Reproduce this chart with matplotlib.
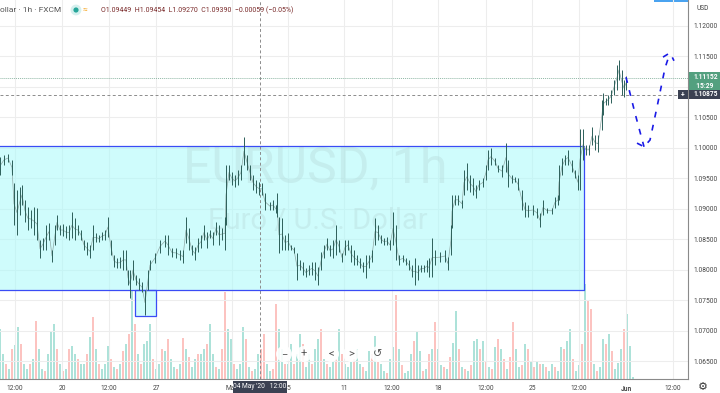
import numpy as np
import matplotlib
matplotlib.use('Agg')
import matplotlib.pyplot as plt
from matplotlib.patches import Rectangle, Circle

plt.rcParams['font.family'] = ['Roboto', 'DejaVu Sans']

# time slots on the chart, with high and low seen in each one
slots = [0,4,8,12,14,17,20,22,25,28,31,34,37,40,43,46,49,52,55,57,60,63,66,69,72,75,78,81,84,87,90,93,96,99,102,105,108,111,114,117,120,123,126,128,130,133,136,139,142,145,148,150,155,160,165,168,172,176,180,183,186,189,192,195,198,201,204,207,210,213,216,219,222,225,226,229,232,235,238,241,244,247,250,253,256,259,262,265,270,273,276,277,279,282,285,288,291,294,297,300,303,306,309,312,315,318,321,324,327,330,333,336,339,342,345,348,351,354,357,360,363,366,369,372,375,378,381,384,387,390,393,396,399,403,406,409,412,415,418,421,424,427,429,432,435,440,445,448,451,452,455,458,462,464,467,470,473,476,479,483,486,488,491,495,498,502,506,508,512,515,518,522,525,528,533,537,540,543,547,552,555,558,559,562,565,568,572,575,578,580,583,586,589,592,595,598,602,603,606,608,611,614,617,619,622,624,626]
highs = [1.0985,1.0989,1.0990,1.0980,1.0943,1.0931,1.0936,1.0939,1.0915,1.0903,1.0898,1.0903,1.0902,1.0849,1.0852,1.0874,1.0877,1.0833,1.0874,1.0890,1.0874,1.0875,1.0872,1.0874,1.0895,1.0885,1.0874,1.0866,1.0849,1.0846,1.0841,1.0874,1.0861,1.0857,1.0862,1.0866,1.0887,1.0849,1.0825,1.0820,1.0821,1.0833,1.0833,1.0800,1.0800,1.0816,1.0792,1.0787,1.0780,1.0767,1.0800,1.0816,1.0828,1.0849,1.0857,1.0857,1.0836,1.0836,1.0833,1.0833,1.0887,1.0869,1.0841,1.0838,1.0852,1.0857,1.0874,1.0862,1.0866,1.0862,1.0879,1.0874,1.0869,1.0887,1.0972,1.0972,1.0961,1.0956,1.0964,1.0972,1.1018,1.0989,1.0972,1.0956,1.0948,1.0944,1.0943,1.0926,1.0911,1.0915,1.0907,1.0926,1.0887,1.0885,1.0857,1.0861,1.0841,1.0838,1.0828,1.0816,1.0813,1.0803,1.0808,1.0813,1.0813,1.0805,1.0829,1.0841,1.0852,1.0841,1.0849,1.0874,1.0849,1.0828,1.0849,1.0849,1.0841,1.0833,1.0825,1.0820,1.0813,1.0825,1.0825,1.0833,1.0885,1.0874,1.0857,1.0852,1.0854,1.0849,1.0895,1.0874,1.0825,1.0825,1.0820,1.0816,1.0808,1.0820,1.0808,1.0808,1.0808,1.0816,1.0820,1.0852,1.0833,1.0829,1.0833,1.0821,1.0874,1.0923,1.0923,1.0923,1.0915,1.0964,1.0975,1.0956,1.0951,1.0939,1.0948,1.0951,1.0972,1.0997,1.1000,1.0984,1.0972,1.0972,1.1008,1.0980,1.0956,1.0952,1.0951,1.0931,1.0911,1.0907,1.0907,1.0902,1.0893,1.0915,1.0902,1.0902,1.0920,1.0923,1.0972,1.0984,1.0989,1.0997,1.0980,1.0964,1.0956,1.1031,1.1031,1.1005,1.1005,1.1034,1.1021,1.1021,1.1079,1.1090,1.1082,1.1087,1.1095,1.1112,1.1136,1.1144,1.1128,1.1112,1.1118]
lows = [1.0956,1.0972,1.0977,1.0956,1.0874,1.0857,1.0890,1.0907,1.0879,1.0866,1.0869,1.0857,1.0849,1.0820,1.0833,1.0833,1.0849,1.0813,1.0841,1.0866,1.0857,1.0856,1.0852,1.0849,1.0852,1.0849,1.0857,1.0849,1.0833,1.0825,1.0820,1.0833,1.0846,1.0846,1.0849,1.0849,1.0854,1.0825,1.0805,1.0803,1.0803,1.0800,1.0800,1.0775,1.0754,1.0784,1.0775,1.0767,1.0764,1.0726,1.0767,1.0800,1.0811,1.0828,1.0838,1.0825,1.0821,1.0820,1.0816,1.0811,1.0844,1.0833,1.0825,1.0816,1.0829,1.0836,1.0849,1.0836,1.0852,1.0841,1.0857,1.0841,1.0849,1.0833,1.0874,1.0948,1.0939,1.0936,1.0939,1.0948,1.0972,1.0964,1.0948,1.0931,1.0926,1.0923,1.0923,1.0898,1.0898,1.0898,1.0893,1.0887,1.0828,1.0833,1.0833,1.0833,1.0833,1.0828,1.0784,1.0800,1.0792,1.0788,1.0792,1.0792,1.0784,1.0775,1.0800,1.0820,1.0833,1.0823,1.0820,1.0825,1.0829,1.0813,1.0825,1.0833,1.0813,1.0808,1.0808,1.0803,1.0797,1.0787,1.0803,1.0813,1.0841,1.0849,1.0844,1.0841,1.0841,1.0833,1.0841,1.0816,1.0808,1.0813,1.0808,1.0800,1.0788,1.0775,1.0784,1.0797,1.0797,1.0797,1.0788,1.0788,1.0808,1.0813,1.0813,1.0800,1.0825,1.0869,1.0907,1.0907,1.0902,1.0923,1.0931,1.0928,1.0923,1.0918,1.0931,1.0936,1.0948,1.0964,1.0972,1.0972,1.0961,1.0952,1.0961,1.0936,1.0943,1.0944,1.0931,1.0898,1.0887,1.0887,1.0890,1.0885,1.0870,1.0890,1.0893,1.0892,1.0902,1.0907,1.0915,1.0956,1.0972,1.0972,1.0961,1.0951,1.0931,1.0931,1.0980,1.0989,1.0989,1.1005,1.0997,1.0993,1.1030,1.1054,1.1071,1.1071,1.1074,1.1087,1.1095,1.1112,1.1087,1.1084,1.1095]

# volume every third slot, negative means a down bar
volumes = [50,25,-15,10,-30,34,52,-35,15,10,-15,20,-58,30,10,-8,25,47,55,-30,15,-8,10,-30,33,25,-20,15,15,-25,42,-62,30,-15,10,15,33,-20,12,-10,15,-28,35,-45,89,-55,25,-15,35,38,55,-20,10,15,-30,28,-40,20,12,-10,15,-41,30,-22,12,20,-25,25,30,-35,55,25,-12,10,-30,-87,50,40,-15,10,15,52,-40,12,-8,10,25,-30,-45,15,8,-10,-75,50,30,-15,15,35,-15,25,45,-35,12,25,-15,30,40,-50,20,-15,12,18,-20,50,-25,15,12,18,-20,30,15,-12,8,28,-25,43,-18,15,8,-6,20,32,-84,30,-14,6,8,25,-38,48,28,-8,10,-25,30,-57,30,14,-12,10,-22,36,68,-30,12,-10,8,-14,38,40,-30,38,-18,12,-10,32,-40,30,-20,10,-22,-57,30,12,-14,35,-30,18,-12,18,-15,15,-12,8,15,-12,8,32,-30,38,50,-20,8,14,-35,95,-78,-70,15,-8,12,40,-35,45,-28,10,16,30,-50,65,33,2]

y_ticks = [1.065, 1.07, 1.075, 1.08, 1.085, 1.09, 1.095, 1.10, 1.105, 1.11, 1.115, 1.12]
x_ticks = [15, 62, 109, 156, 232, 288, 344, 392, 438, 486, 532, 579, 626, 673]
x_labels = ['12:00', '20', '12:00', '27', 'May', '5', '11', '12:00', '18', '12:00', '25', '12:00', 'Jun', '12:00']

forecast_a_x = [626, 635, 644]
forecast_a_y = [1.1116, 1.1057, 1.1002]
forecast_b_x = [637, 644, 650, 657, 665, 670]
forecast_b_y = [1.1008, 1.1002, 1.1013, 1.1067, 1.1131, 1.1156]
forecast_c_x = [663, 670, 674]
forecast_c_y = [1.1149, 1.1156, 1.1143]

last_price = 1.11152
cross_price = 1.10875
zone_top, zone_bottom = 1.10033, 1.07665
box_bottom = 1.07247

fig = plt.figure(figsize=(7.2, 3.93), dpi=100)
ax = fig.add_axes([0, 14/393, 688/720, 379/393])
ax.set_xlim(0, 688)
ax.set_ylim(1.06213, 1.12426)
grid = '#ededed'
text_col = '#444444'

# volume goes on its own scale, behind the price
vol = ax.twinx()
vol.set_ylim(0, 379)
vol.set_yticks([])
vol_x = np.arange(len(volumes)) * 3
v = np.array(volumes)
vol.bar(vol_x[v > 0], v[v > 0], width=2.6, color='#8ad6ca', alpha=0.7, lw=0)
vol.bar(vol_x[v < 0], -v[v < 0], width=2.6, color='#fbaaa6', alpha=0.7, lw=0)
vol.set_zorder(1)
ax.set_zorder(2)
ax.patch.set_visible(False)
for s in vol.spines.values():
    s.set_visible(False)

ax.set_xticks(x_ticks)
ax.set_xticklabels(x_labels, fontsize=4.8, color=text_col)
ax.yaxis.tick_right()
ax.set_yticks(y_ticks)
ax.set_yticklabels([f'{t:.5f}' for t in y_ticks], fontsize=4.8, color=text_col)
ax.tick_params(axis='both', length=0, pad=4)
ax.grid(True, color=grid, lw=0.8)
ax.set_axisbelow(True)
for name in ['top', 'left']:
    ax.spines[name].set_visible(False)
ax.spines['bottom'].set_color('#8a8a8a')
ax.spines['right'].set_color('#8a8a8a')
ax.get_xticklabels()[12].set_fontweight('bold')

# grid under the zone has to show through, so the zone is translucent
ax.add_patch(Rectangle((0, zone_bottom), 584, zone_top - zone_bottom, fc='#a9fafa', alpha=0.55, ec='none', zorder=1.5))
ax.add_patch(Rectangle((135, box_bottom), 21, zone_bottom - box_bottom, fc='#a9fafa', alpha=0.55, ec='none', zorder=1.5))
ax.plot([0, 584, 584, 0], [zone_top, zone_top, zone_bottom, zone_bottom], color='#3a4cf5', lw=0.9, zorder=3)
ax.add_patch(Rectangle((135, box_bottom), 21, zone_bottom - box_bottom, fc='none', ec='#3a4cf5', lw=0.9, zorder=3))

ax.text(315, 1.0966, 'EURUSD, 1h', fontsize=36, color='#b9dedd', alpha=0.45, ha='center', va='center', zorder=1.6)
ax.text(318, 1.0880, 'Euro / U.S. Dollar', fontsize=21, color='#b9dedd', alpha=0.45, ha='center', va='center', zorder=1.6)

# price columns
mids = (np.array(highs) + np.array(lows)) / 2
ax.plot(slots, mids, color='#8fa8a5', lw=0.5, zorder=4)
ax.vlines(slots, lows, highs, color='#2c5f59', lw=0.7, zorder=5)

ax.axhline(last_price, color='#8fb8a5', lw=0.7, ls=(0, (1, 1)), zorder=2.5)
ax.axhline(cross_price, color='#8c8c8c', lw=0.7, ls=(0, (3, 2.5)), zorder=2.5)
ax.axvline(260, color='#8c8c8c', lw=0.7, ls=(0, (3, 2.5)), zorder=2.5)

for fx, fy in [(forecast_a_x, forecast_a_y), (forecast_b_x, forecast_b_y), (forecast_c_x, forecast_c_y)]:
    ax.plot(fx, fy, color='#1a1ae6', lw=1.2, ls=(0, (3.5, 4.5)), zorder=6)

# header
fig.text(0, 383/393, 'ollar · 1h · FXCM', fontsize=6, color='#555555', va='center')
fig.text(101/720, 383/393, 'O1.09449  H1.09454  L1.09270  C1.09390  −0.00059 (−0.05%)', fontsize=5, color='#7a2b2b', va='center')
fig.patches.append(Circle((76, 383), 4, transform=None, fc='#26a69a', ec='#d5f0ee', lw=2))
fig.text(85/720, 383/393, '≈', fontsize=6, color='#f5a623', va='center', ha='center')
fig.text(703/720, 385/393, 'USD', fontsize=4.8, color=text_col, va='center', ha='center')
fig.patches.append(Rectangle((654, 391.5), 34, 1.5, transform=None, fc='#4aa3f0', ec='none'))

# price labels on the right
def label(y, txt, col, tcol='white', x0=689, x1=720, h=9.5):
    fig.patches.append(Rectangle((x0, 393 - y - h / 2), x1 - x0, h, transform=None, fc=col, ec='none', zorder=8))
    fig.text((x0 + 4) / 720 if x1 - x0 > 20 else (x0 + x1) / 2 / 720, (393 - y) / 393, txt, fontsize=4.8, color=tcol,
             va='center', ha='left' if x1 - x0 > 20 else 'center', fontweight='bold', zorder=9)

label(77, '1.11152', '#53a07f')
label(86, '  15:29', '#53a07f', h=9)
label(94.5, '1.10875', '#3b4152')
label(94.5, '+', '#3b4152', x0=678, x1=688)

# crosshair date label
fig.patches.append(Rectangle((233, 0), 54, 12, transform=None, fc='#3b4152', ec='none', zorder=8))
fig.text(260/720, 6/393, "04 May '20   12:00", fontsize=4.8, color='white', ha='center', va='center', zorder=9)

# floating buttons
for bx, txt in zip([284, 304, 331, 351, 378], ['−', '+', '<', '>', '↺']):
    fig.patches.append(Circle((bx, 39), 8, transform=None, fc='white', ec='none', alpha=0.9, zorder=8))
    fig.text(bx/720, 39/393, txt, fontsize=8, color='#555555', ha='center', va='center', zorder=9)
fig.text(703/720, 6/393, '⚙', fontsize=8, color='#333333', ha='center', va='center', family=['DejaVu Sans'])

fig.savefig('out.png', dpi=100)
